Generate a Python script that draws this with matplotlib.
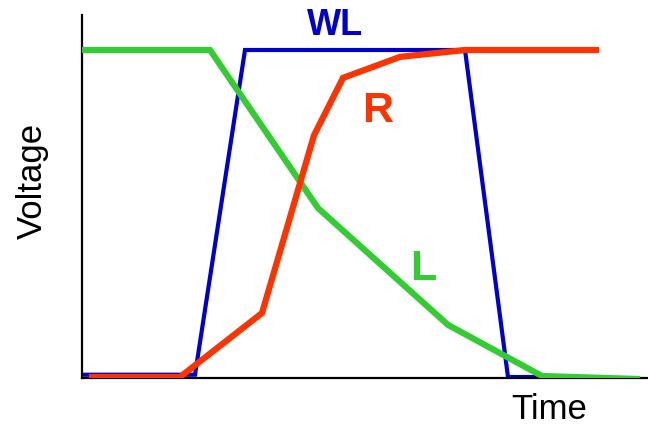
"""Word-line / bit-line voltage waveforms sketch."""

import matplotlib
matplotlib.use("Agg")
import matplotlib.pyplot as plt

# time in arbitrary units, voltage normalised to the supply level
wl_time = [0, 113, 163, 383, 426, 455]
wl_volt = [0.01, 0.01, 1.0, 1.0, 0.003, 0.003]

l_time = [0, 128, 236, 366, 460, 555]
l_volt = [1.0, 1.0, 0.518, 0.162, 0.006, -0.003]

r_time = [10, 98, 180, 232, 261, 318, 383, 514]
r_volt = [0.003, 0.003, 0.198, 0.74, 0.915, 0.979, 1.0, 1.0]

labels = ["WL", "R", "L"]
label_pos = [(253, 1.045), (296, 0.78), (341, 0.30)]
label_size = [26, 31, 31]

BLUE = "#0000CC"
RED = "#FF3300"
GREEN = "#33CC33"

plt.rcParams["font.family"] = ["Liberation Sans", "DejaVu Sans"]

fig = plt.figure(figsize=(6.48, 4.25), dpi=100)
ax = fig.add_axes([82 / 648, 47 / 425, 565 / 648, 363 / 425])

ax.plot(wl_time, wl_volt, color=BLUE, lw=3.0, solid_joinstyle="miter", zorder=2)
ax.plot(l_time, l_volt, color=GREEN, lw=4.5, solid_joinstyle="miter", zorder=3)
ax.plot(r_time, r_volt, color=RED, lw=4.5, solid_joinstyle="miter", zorder=4)

for text, (x, y), size, color in zip(labels, label_pos, label_size, [BLUE, RED, GREEN]):
    ax.text(x, y, text, color=color, fontsize=size, fontweight="bold",
            ha="center", va="baseline")

ax.set_xlim(0, 565)
ax.set_ylim(0, 363 / 328)
ax.spines["top"].set_visible(False)
ax.spines["right"].set_visible(False)
ax.spines["left"].set_linewidth(1.6)
ax.spines["bottom"].set_linewidth(1.6)
ax.set_xticks([])
ax.set_yticks([])

fig.text(32 / 648, 1 - 181 / 425, "Voltage", rotation=90, fontsize=25,
         ha="center", va="center")
fig.text(549 / 648, 1 - 419 / 425, "Time", fontsize=25, ha="center", va="baseline")

fig.savefig("out.png", dpi=100)
